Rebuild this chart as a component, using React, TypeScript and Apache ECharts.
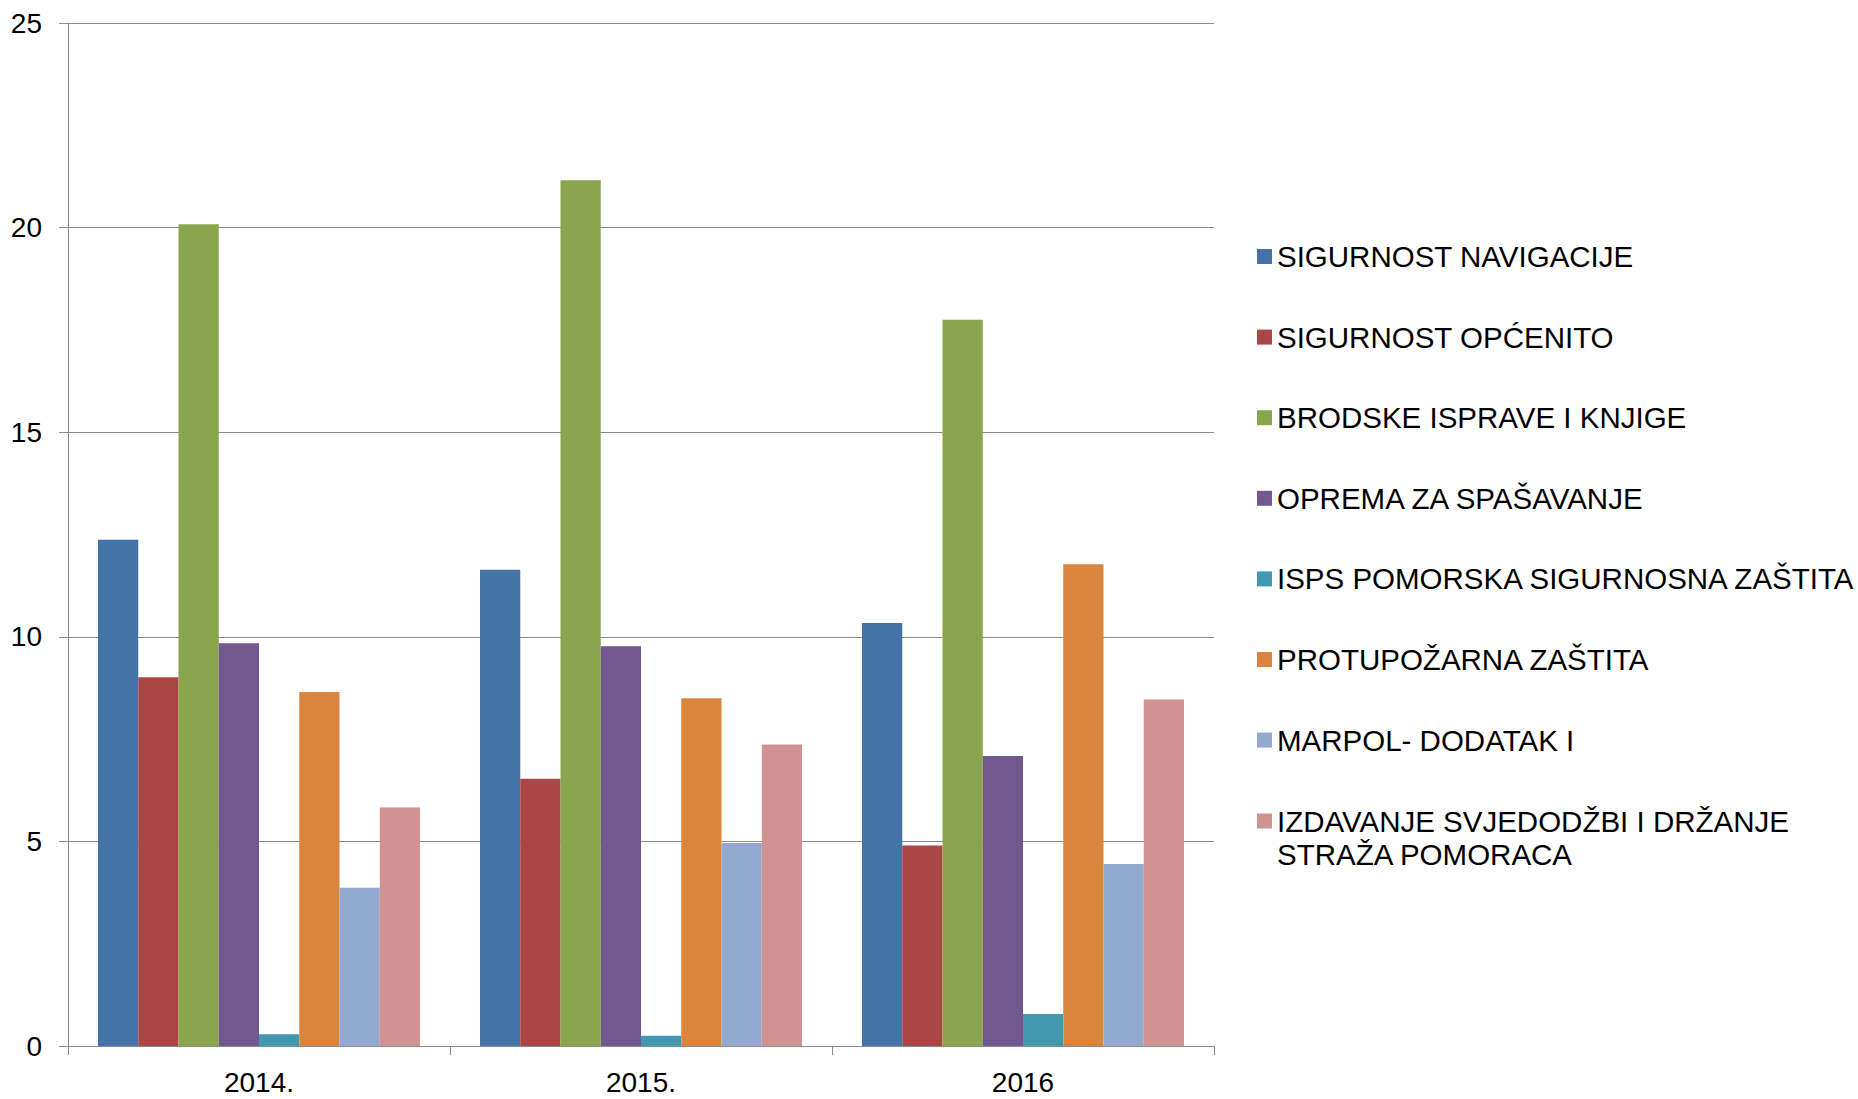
import React, { useEffect, useRef } from "react";
import * as echarts from "echarts";

const categories = ["2014.", "2015.", "2016"];
const seriesNames = [
  "SIGURNOST NAVIGACIJE",
  "SIGURNOST OPĆENITO",
  "BRODSKE ISPRAVE I KNJIGE",
  "OPREMA ZA SPAŠAVANJE",
  "ISPS POMORSKA SIGURNOSNA ZAŠTITA",
  "PROTUPOŽARNA ZAŠTITA",
  "MARPOL- DODATAK I",
  "IZDAVANJE SVJEDODŽBI I DRŽANJE STRAŽA POMORACA",
];
const sigurnostNavigacije = [12.37, 11.64, 10.34];
const sigurnostOpcenito = [9.01, 6.53, 4.9];
const brodskeIsprave = [20.08, 21.16, 17.75];
const opremaZaSpasavanje = [9.84, 9.77, 7.09];
const ispsZastita = [0.29, 0.25, 0.78];
const protupozarnaZastita = [8.65, 8.5, 11.77];
const marpolDodatak = [3.87, 4.96, 4.45];
const izdavanjeSvjedodzbi = [5.83, 7.37, 8.47];
const seriesValues = [
  sigurnostNavigacije,
  sigurnostOpcenito,
  brodskeIsprave,
  opremaZaSpasavanje,
  ispsZastita,
  protupozarnaZastita,
  marpolDodatak,
  izdavanjeSvjedodzbi,
];
const seriesColors = [
  "#4572A7",
  "#AA4643",
  "#89A54E",
  "#71588F",
  "#4198AF",
  "#DB843D",
  "#93A9CF",
  "#D19392",
];

const FONT = "'Liberation Sans', Arial, sans-serif";
const GRAY = "#8a8a8a";

export default function App() {
  const ref = useRef<HTMLDivElement>(null);
  useEffect(() => {
    if (!ref.current) return;
    const chart = echarts.init(ref.current, undefined, { renderer: "svg" });
    const legendText = {
      fontFamily: FONT,
      fontSize: 29.5,
      color: "#000",
      lineHeight: 33,
    };
    chart.setOption({
      animation: false,
      backgroundColor: "#fff",
      textStyle: { fontFamily: FONT },
      grid: { left: 68, right: 644, top: 23, bottom: 48, containLabel: false },
      legend: [
        {
          orient: "vertical",
          left: 1257,
          top: 240,
          padding: 0,
          itemWidth: 15,
          itemHeight: 15,
          itemGap: 47.6,
          icon: "rect",
          selectedMode: false,
          textStyle: legendText,
          data: seriesNames.slice(0, 7),
        },
        {
          orient: "vertical",
          left: 1257,
          top: 771.5,
          padding: 0,
          itemWidth: 15,
          itemHeight: 15,
          icon: "rect",
          selectedMode: false,
          textStyle: legendText,
          formatter: (name: string) =>
            "\n" + name.replace(" STRAŽA", "\nSTRAŽA"),
          data: seriesNames.slice(7),
        },
      ],
      xAxis: {
        type: "category",
        data: categories,
        axisLine: { show: true, lineStyle: { color: GRAY, width: 1 } },
        axisTick: { show: true, length: 9, lineStyle: { color: GRAY } },
        axisLabel: {
          fontFamily: FONT,
          fontSize: 28,
          color: "#000",
          lineHeight: 33,
          margin: 20,
        },
      },
      yAxis: {
        type: "value",
        min: 0,
        max: 25,
        interval: 5,
        axisLine: { show: true, lineStyle: { color: GRAY, width: 1 } },
        axisTick: { show: true, length: 9, lineStyle: { color: GRAY } },
        axisLabel: {
          fontFamily: FONT,
          fontSize: 28,
          color: "#000",
          margin: 26,
        },
        splitLine: { show: true, lineStyle: { color: GRAY, width: 1 } },
      },
      series: seriesNames.map((name, i) => ({
        name,
        type: "bar",
        data: seriesValues[i],
        barGap: "0%",
        barCategoryGap: "15.7%",
        itemStyle: { color: seriesColors[i] },
      })),
    });
    return () => chart.dispose();
  }, []);
  return (
    <div
      ref={ref}
      style={{ position: "fixed", left: 0, top: 0, width: 1858, height: 1099 }}
    />
  );
}
